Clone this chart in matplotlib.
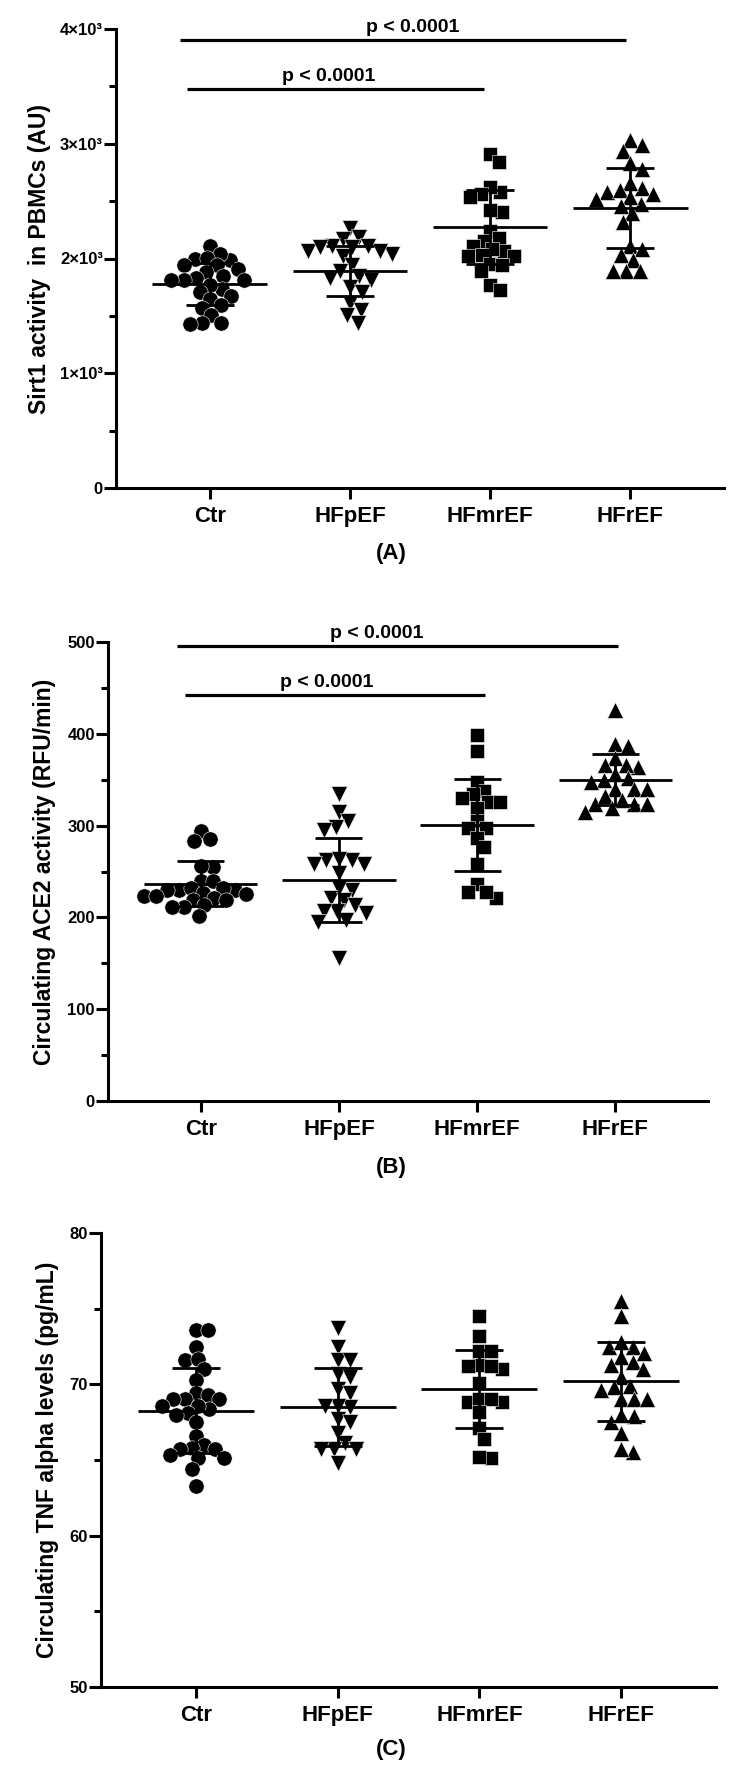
import numpy as np
import matplotlib
matplotlib.use('Agg')
import matplotlib.pyplot as plt

plt.rcParams['font.family'] = ['Liberation Sans', 'DejaVu Sans']
plt.rcParams['font.weight'] = 'bold'

GROUPS = ['Ctr', 'HFpEF', 'HFmrEF', 'HFrEF']
MARKERS = ['o', 'v', 's', '^']
MSIZES = [11, 11.5, 10.5, 11.5]

# (A) Sirt1 activity in PBMCs (AU)
sirt1_ctr = [1995, 1990, 2106, 2043, 2003, 1940, 1940, 1910, 1884, 1847, 1831, 1816, 1816,
             1816, 1738, 1769, 1707, 1675, 1644, 1566, 1597, 1504, 1441, 1426, 1441]
sirt1_hfpef = [2268, 2190, 2174, 2043, 2065, 2096, 2112, 2112, 2065, 2019, 2096, 1940, 1894,
               1847, 1831, 1816, 1753, 1707, 1613, 1551, 1441, 1504]
sirt1_hfmref = [2908, 2845, 2580, 2627, 2565, 2533, 2408, 2424, 2237, 2175, 2150, 2110, 2065,
                2080, 2019, 2030, 2019, 1956, 1940, 1894, 1769, 1722]
sirt1_hfref = [3033, 2986, 2939, 2830, 2783, 2611, 2580, 2658, 2596, 2565, 2471, 2393, 2518,
               2533, 2455, 2315, 2112, 2034, 2081, 1987, 1894, 1894, 1894]
sirt1_mean = [1778, 1888, 2275, 2440]
sirt1_sd = [187, 219, 320, 350]

# (B) Circulating ACE2 activity (RFU/min)
ace2_ctr = [294, 285, 283, 255, 256, 240, 240, 230, 232, 230, 227, 230, 232, 221, 223, 219,
            219, 223, 225, 211, 211, 213, 201]
ace2_hfpef = [334, 315, 305, 299, 295, 262, 258, 262, 264, 258, 248, 230, 232, 221, 219, 213,
              207, 207, 205, 197, 195, 156]
ace2_hfmref = [399, 381, 348, 338, 334, 326, 330, 326, 319, 305, 297, 297, 287, 277, 258, 236,
               221, 228, 228]
ace2_hfref = [426, 389, 387, 364, 374, 366, 366, 352, 356, 350, 348, 340, 340, 340, 323, 323,
              332, 328, 315, 319, 323]
ace2_mean = [236.5, 241, 301, 350]
ace2_sd = [24.5, 45.5, 50, 28]

# (C) Circulating TNF alpha levels (pg/mL)
tnf_ctr = [73.6, 73.6, 72.5, 71.6, 71.7, 71.0, 70.3, 69.4, 69.3, 69.0, 69.0, 69.0, 68.4, 68.6,
           68.6, 68.1, 68.0, 67.5, 66.6, 66.0, 65.8, 65.7, 65.7, 65.3, 65.1, 65.1, 64.4, 63.3]
tnf_hfpef = [73.7, 72.5, 71.6, 71.6, 70.7, 70.5, 69.7, 69.4, 68.5, 68.6, 68.6, 67.7, 67.5,
             66.8, 66.1, 65.7, 65.7, 65.7, 64.8]
tnf_hfmref = [74.5, 73.2, 72.2, 72.2, 71.3, 71.0, 71.2, 71.2, 70.1, 68.8, 68.8, 69.0, 69.0,
              68.2, 67.1, 66.4, 65.1, 65.2]
tnf_hfref = [75.5, 74.5, 72.5, 72.5, 72.8, 71.8, 72.1, 71.3, 71.5, 71.0, 70.5, 69.8, 69.9,
             69.0, 69.0, 69.6, 69.0, 67.9, 67.5, 68.0, 66.8, 65.5, 65.7]
tnf_mean = [68.25, 68.5, 69.7, 70.2]
tnf_sd = [2.8, 2.55, 2.6, 2.6]

PANELS = [
    dict(data=[sirt1_ctr, sirt1_hfpef, sirt1_hfmref, sirt1_hfref], mean=sirt1_mean, sd=sirt1_sd,
         ylabel='Sirt1 activity  in PBMCs (AU)', ylim=(0, 4000),
         major=[0, 1000, 2000, 3000, 4000], minor=[500, 1500, 2500, 3500],
         ticklabels=['0', '1×10³', '2×10³', '3×10³', '4×10³'], tag='(A)',
         sig=[(3905, -0.21, 2.97, 1.45), (3476, -0.16, 1.96, 0.85)],
         box=(116, 724, 29, 488), tag_y=553, label_x=40),
    dict(data=[ace2_ctr, ace2_hfpef, ace2_hfmref, ace2_hfref], mean=ace2_mean, sd=ace2_sd,
         ylabel='Circulating ACE2 activity (RFU/min)', ylim=(0, 500),
         major=[0, 100, 200, 300, 400, 500], minor=[50, 150, 250, 350, 450],
         ticklabels=['0', '100', '200', '300', '400', '500'], tag='(B)',
         sig=[(496, -0.17, 3.02, 1.27), (442, -0.11, 2.06, 0.91)],
         box=(108, 708, 642, 1101), tag_y=1168, label_x=45),
    dict(data=[tnf_ctr, tnf_hfpef, tnf_hfmref, tnf_hfref], mean=tnf_mean, sd=tnf_sd,
         ylabel='Circulating TNF alpha levels (pg/mL)', ylim=(50, 80),
         major=[50, 60, 70, 80], minor=[55, 65, 75],
         ticklabels=['50', '60', '70', '80'], tag='(C)', sig=[],
         box=(101, 716, 1233, 1687), tag_y=1749, label_x=48),
]

W, H = 753, 1780
DPI = 100


def swarm_offsets(ax, values, center, diam_px):
    """Simple beeswarm: x positions (data units) so markers overlap only partly."""
    vals = np.asarray(values, dtype=float)
    ypix = ax.transData.transform(np.column_stack([np.full(len(vals), center), vals]))[:, 1]
    x0 = ax.transData.transform((center, 0))[0]
    x1 = ax.transData.transform((center + 1, 0))[0]
    px_per_unit = x1 - x0
    order = np.argsort(-ypix)
    placed = []
    xs = np.zeros(len(vals))
    for i in order:
        y = ypix[i]
        cands = [0.0]
        for (px, py) in placed:
            dy = y - py
            if abs(dy) < diam_px:
                dx = np.sqrt(diam_px ** 2 - dy ** 2)
                cands += [px + dx, px - dx]
        cands = sorted(cands, key=abs)
        for c in cands:
            if all((c - px) ** 2 + (y - py) ** 2 >= diam_px ** 2 - 1e-6 for (px, py) in placed):
                break
        placed.append((c, y))
        xs[i] = center + c / px_per_unit
    return xs


fig = plt.figure(figsize=(W / DPI, H / DPI), dpi=DPI)

for p in PANELS:
    l, r, t, b = p['box']
    ax = fig.add_axes([l / W, 1 - b / H, (r - l) / W, (b - t) / H])
    ax.set_xlim(-0.67, 3.67)
    ax.set_ylim(*p['ylim'])
    for s in ['top', 'right']:
        ax.spines[s].set_visible(False)
    for s in ['left', 'bottom']:
        ax.spines[s].set_linewidth(2.2)

    for i, vals in enumerate(p['data']):
        ms = MSIZES[i]
        xs = swarm_offsets(ax, vals, i, ms * DPI / 72 * 0.8)
        ax.plot(xs, vals, linestyle='none', marker=MARKERS[i], markersize=ms,
                color='black', markeredgecolor='white', markeredgewidth=0.4, zorder=3)
        m, sd = p['mean'][i], p['sd'][i]
        ax.plot([i - 0.41, i + 0.41], [m, m], color='black', lw=2.0, zorder=4, solid_capstyle='butt')
        ax.plot([i, i], [m - sd, m + sd], color='black', lw=2.0, zorder=4, solid_capstyle='butt')
        for yy in (m - sd, m + sd):
            ax.plot([i - 0.17, i + 0.17], [yy, yy], color='black', lw=2.0, zorder=4,
                    solid_capstyle='butt')

    for (yy, xa, xb, xt) in p['sig']:
        ax.plot([xa, xb], [yy, yy], color='black', lw=2.3, clip_on=False, solid_capstyle='butt')
        ax.annotate('p < 0.0001', (xt, yy), xytext=(0, 3), textcoords='offset points',
                    ha='center', va='bottom', fontsize=14, fontweight='bold', annotation_clip=False)

    ax.set_xticks(range(len(GROUPS)))
    ax.set_xticklabels(GROUPS, fontsize=16, fontweight='bold')
    ax.set_yticks(p['major'])
    ax.set_yticklabels(p['ticklabels'], fontsize=12, fontweight='bold')
    ax.set_yticks(p['minor'], minor=True)
    ax.tick_params(axis='x', length=8, width=2.2, pad=5)
    ax.tick_params(axis='y', which='major', length=8.5, width=2.2, pad=1)
    ax.tick_params(axis='y', which='minor', length=5, width=2.2)

    fig.text(p['label_x'] / W, 1 - (t + b) / 2 / H, p['ylabel'], rotation=90,
             ha='center', va='center', fontsize=16.5, fontweight='bold')
    fig.text(391 / W, 1 - p['tag_y'] / H, p['tag'], ha='center', va='center',
             fontsize=16, fontweight='bold')

fig.savefig('out.png', dpi=DPI, facecolor='white')
